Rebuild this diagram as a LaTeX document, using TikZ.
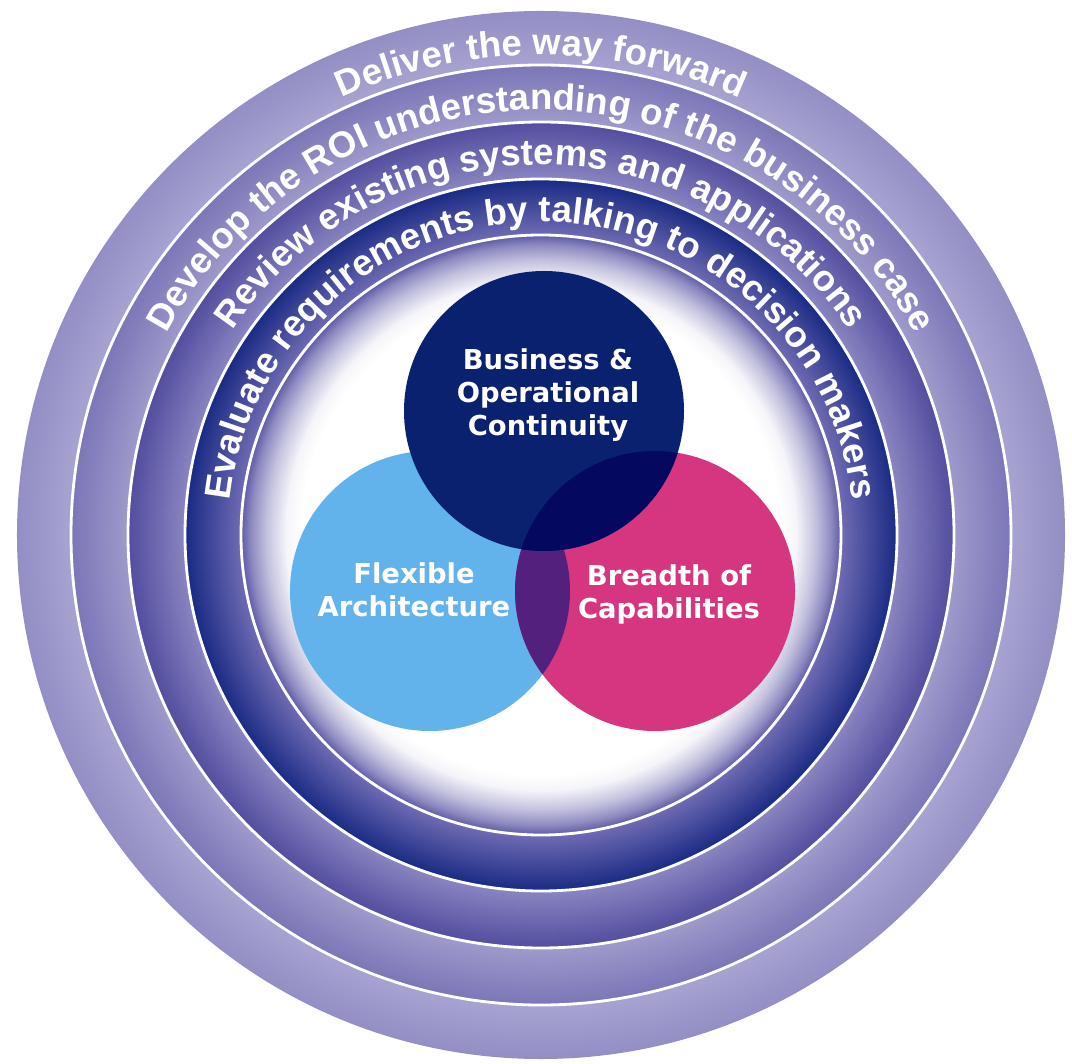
\documentclass[tikz,border=0pt]{standalone}
\usepackage{fontspec}
\usepackage{tikz}
\usetikzlibrary{decorations.text}
\newfontfamily\arialfont{Liberation Sans}
\newfontfamily\verdanafont{DejaVu Sans}
\newcommand{\ringFont}[0]{\arialfont\bfseries\fontsize{10.4}{12}\selectfont\color{white}}
\newcommand{\vennFont}[0]{\verdanafont\bfseries\fontsize{7.8}{9.4}\selectfont}

\definecolor{ringOneOut}{HTML}{938EC4}
\definecolor{ringOneIn}{HTML}{A7A3D1}
\definecolor{ringTwoOut}{HTML}{7B76B7}
\definecolor{ringTwoIn}{HTML}{9E9ACB}
\definecolor{ringThreeOut}{HTML}{524D9E}
\definecolor{ringThreeIn}{HTML}{8985C1}
\definecolor{ringFourOut}{HTML}{192A83}
\definecolor{ringFourIn}{HTML}{6F6BB3}
\definecolor{discEdge}{HTML}{5D59A6}
\definecolor{vennNavy}{HTML}{0A2170}
\definecolor{vennBlue}{HTML}{62B3EC}
\definecolor{vennPink}{HTML}{D6357F}
\definecolor{vennPurple}{HTML}{54207D}
\definecolor{vennDark}{HTML}{04085E}

\pgfdeclareradialshading{ringOne}{\pgfpoint{0bp}{0bp}}{color(0bp)=(ringOneIn); color(22.42bp)=(ringOneIn); color(25bp)=(ringOneOut); color(50bp)=(ringOneOut)}
\pgfdeclareradialshading{ringTwo}{\pgfpoint{0bp}{0bp}}{color(0bp)=(ringTwoIn); color(21.97bp)=(ringTwoIn); color(25bp)=(ringTwoOut); color(50bp)=(ringTwoOut)}
\pgfdeclareradialshading{ringThree}{\pgfpoint{0bp}{0bp}}{color(0bp)=(ringThreeIn); color(21.55bp)=(ringThreeIn); color(25bp)=(ringThreeOut); color(50bp)=(ringThreeOut)}
\pgfdeclareradialshading{ringFour}{\pgfpoint{0bp}{0bp}}{color(0bp)=(ringFourIn); color(21.07bp)=(ringFourIn); color(25bp)=(ringFourOut); color(50bp)=(ringFourOut)}
\pgfdeclareradialshading{innerDisc}{\pgfpoint{0bp}{0bp}}{color(0bp)=(white); color(20bp)=(white); color(21.25bp)=(white!94!discEdge); color(22.92bp)=(white!62!discEdge); color(24.17bp)=(white!30!discEdge); color(25bp)=(discEdge); color(50bp)=(discEdge)}

\begin{document}
\begin{tikzpicture}
  \tikzset{
    sepline/.style={draw=white, line width=0.8pt},
    ringtext/.style={decorate, decoration={text along path, text align=center, text={|\ringFont|#1}}},
    venntext/.style={align=center, text=white, font=\vennFont, inner sep=0pt}
  }
  \fill[white] (-5.41,-5.28) rectangle (5.31,5.35);
  \useasboundingbox (-5.41,-5.28) rectangle (5.31,5.35);
  % rings, from the outside in
  \shade[shading=ringOne] (0,0) circle (5.24);
  \shade[shading=ringTwo] (0,0) circle (4.70);
  \shade[shading=ringThree] (0,0) circle (4.13);
  \shade[shading=ringFour] (0,0) circle (3.56);
  \shade[shading=innerDisc] (0,0) circle (3.00);
  \foreach \r in {4.70,4.13,3.56,3.00}
    \draw[sepline] (0,0) circle (\r);
  % texts along the rings
  \path[ringtext={Deliver the way forward}] (180:4.80) arc[start angle=180, end angle=0, radius=4.80];
  \path[ringtext={Develop the ROI understanding of the business case}] (180:4.25) arc[start angle=180, end angle=0, radius=4.25];
  \path[ringtext={Review existing systems and applications}] (180:3.70) arc[start angle=180, end angle=0, radius=3.70];
  \path[ringtext={Evaluate requirements by talking to decision makers}] (180:3.13) arc[start angle=180, end angle=0, radius=3.13];
  % the three circles
  \coordinate (BOC) at (0.03,1.24);
  \coordinate (FA) at (-1.11,-0.56);
  \coordinate (BC) at (1.14,-0.56);
  \fill[vennBlue] (FA) circle (1.40);
  \fill[vennPink] (BC) circle (1.40);
  \begin{scope}
    \clip (FA) circle (1.40);
    \fill[vennPurple] (BC) circle (1.40);
  \end{scope}
  \fill[vennNavy] (BOC) circle (1.40);
  \begin{scope}
    \clip (BOC) circle (1.40);
    \fill[vennDark] (BC) circle (1.40);
  \end{scope}
  \node[venntext] (BOC-text) at (0.07,1.40) {Business \&\\Operational\\Continuity};
  \node[venntext] (FA-text) at (-1.27,-0.55) {Flexible\\Architecture};
  \node[venntext] (BC-text) at (1.28,-0.59) {Breadth of\\Capabilities};
\end{tikzpicture}
\end{document}
